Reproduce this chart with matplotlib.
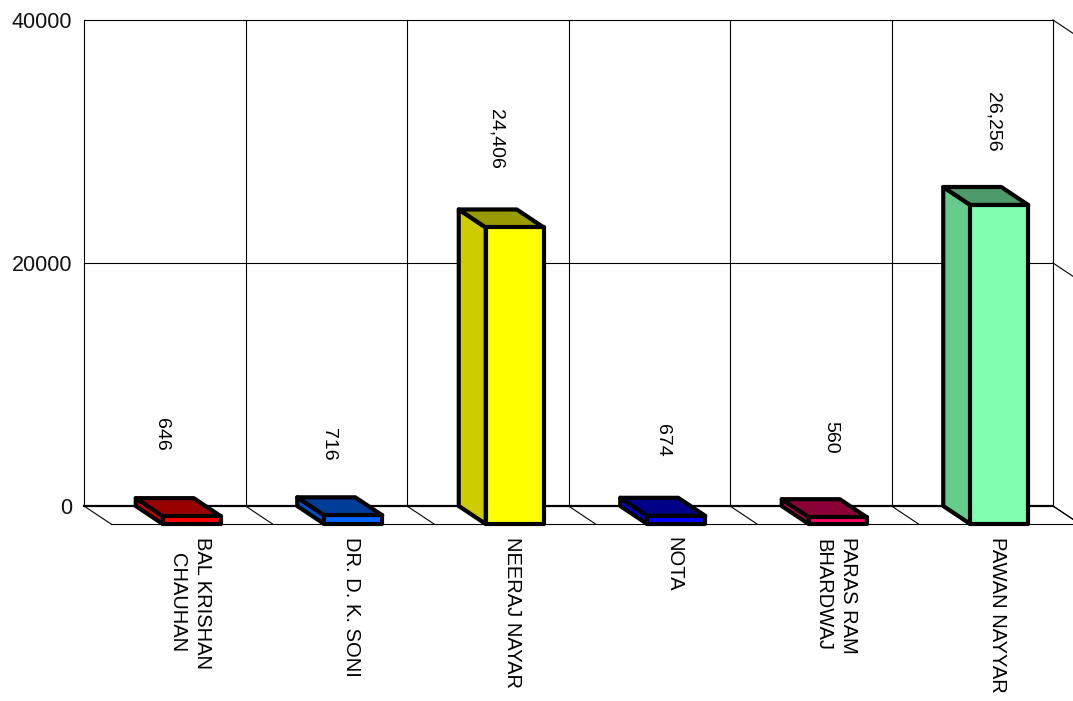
import matplotlib
matplotlib.use('Agg')
import matplotlib.pyplot as plt
from matplotlib.patches import Polygon

plt.rcParams['font.family'] = ['Liberation Sans', 'DejaVu Sans']

names = ['BAL KRISHAN\nCHAUHAN', 'DR. D. K. SONI', 'NEERAJ NAYAR', 'NOTA',
         'PARAS RAM\nBHARDWAJ', 'PAWAN NAYYAR']
votes = [646, 716, 24406, 674, 560, 26256]
vote_labels = ['646', '716', '24,406', '674', '560', '26,256']
yticks = [0, 20000, 40000]

front_colors = ['#FF0000', '#0066FF', '#FFFF00', '#0000FF', '#FF0066', '#80FFB0']
side_colors = ['#CC0000', '#0051CC', '#CCCC00', '#0000CC', '#CC0051', '#66CC8C']
top_colors = ['#990000', '#003D99', '#999900', '#000088', '#8C0038', '#4D9969']

# pixel offsets of the value labels from the top of the bar
label_dx = [-3, 2, 8, 13, 20, 21]
label_dy = [64, 53, 71, 57, 62, 65]

depth_x = 27 / 161.5
depth_y = 18 / 486 * 40000
half_w = 29 / 161.5

fig = plt.figure(figsize=(10.73, 7.01), dpi=100)
ax = fig.add_axes([84 / 1073, (701 - 506) / 701, 969 / 1073, 486 / 701])
ax.set_xlim(-0.5, 5.5)
ax.set_ylim(0, 40000)
ax.axis('off')

left, right = ax.get_xlim()

# back wall, floor and side wall
for y in yticks:
    ax.plot([left, right], [y, y], color='black', lw=1.6 if y == 0 else 0.8, clip_on=False, zorder=1)
    ax.plot([right, right + depth_x], [y, y - depth_y], color='black', lw=0.8, clip_on=False, zorder=1)
    ax.annotate(str(y), (left, y), xytext=(-12, -3), textcoords='offset pixels',
                ha='right', va='center', fontsize=15.5, color='#111111')
for i in range(len(names) + 1):
    x = left + i
    ax.plot([x, x], [0, 40000], color='black', lw=0.8, clip_on=False, zorder=1)
    ax.plot([x, x + depth_x], [0, -depth_y], color='black', lw=0.8, clip_on=False, zorder=1)
ax.plot([left + depth_x, right + depth_x], [-depth_y, -depth_y], color='black', lw=0.8, clip_on=False, zorder=1)

# bars
for i, v in enumerate(votes):
    x0, x1 = i - half_w, i + half_w
    side = [(x0, 0), (x0, v), (x0 + depth_x, v - depth_y), (x0 + depth_x, -depth_y)]
    top = [(x0, v), (x1, v), (x1 + depth_x, v - depth_y), (x0 + depth_x, v - depth_y)]
    front = [(x0 + depth_x, v - depth_y), (x1 + depth_x, v - depth_y),
             (x1 + depth_x, -depth_y), (x0 + depth_x, -depth_y)]
    for pts, col in [(side, side_colors[i]), (top, top_colors[i]), (front, front_colors[i])]:
        ax.add_patch(Polygon(pts, closed=True, facecolor=col, edgecolor='black', lw=3,
                             joinstyle='round', clip_on=False, zorder=3))
    ax.annotate(vote_labels[i], (i, v), xytext=(label_dx[i], label_dy[i]), textcoords='offset pixels',
                rotation=270, ha='center', va='center', fontsize=14, zorder=4)
    ax.annotate(names[i], (i + depth_x, 0), xytext=(-2, -31), textcoords='offset pixels',
                rotation=270, rotation_mode='anchor', ha='left', va='center', fontsize=14.5,
                multialignment='center', linespacing=1.42, zorder=4)

fig.savefig('out.png', dpi=100)
